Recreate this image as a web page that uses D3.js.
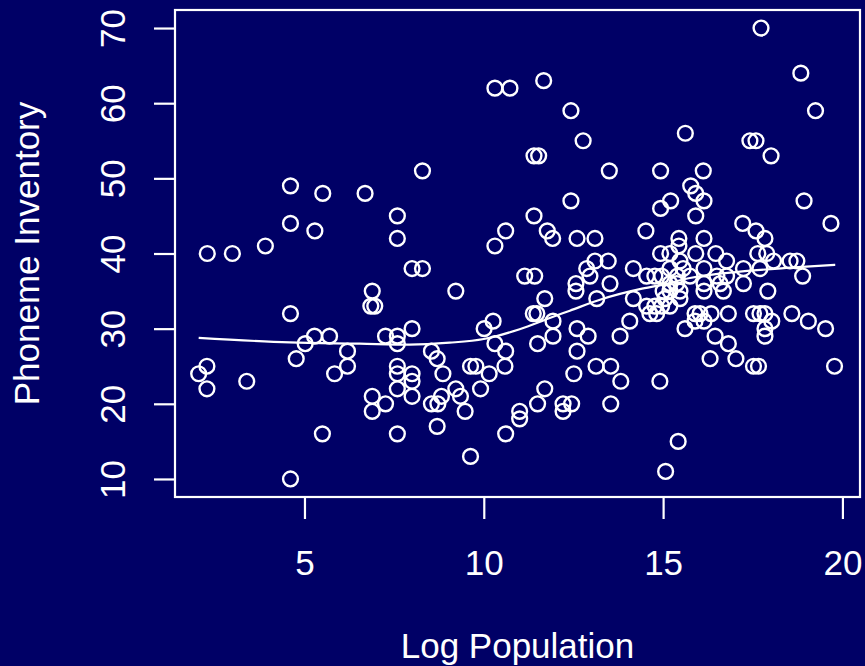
<!DOCTYPE html>
<html lang="en">
<head>
<meta charset="utf-8">
<script src="https://cdn.jsdelivr.net/npm/d3@7/dist/d3.min.js"></script>
<style type="text/css">
    body { margin: 0; background: #000066; }
    .axis line { stroke: white; stroke-width: 2.2; }
    .axis text { font-family: "Liberation Sans", Arial, sans-serif; font-size: 35px; fill: white; }
    .lab { font-family: "Liberation Sans", Arial, sans-serif; font-size: 35px; fill: white; }
</style>
</head>
<body>
<script>
// log population (x) and phoneme inventory size (y)
const logPop = [
    2.05, 2.28, 2.28, 2.29, 2.99, 3.39, 3.91, 4.61, 4.61, 4.61,
    4.61, 4.77, 5.02, 5.28, 5.29, 5.50, 5.51, 5.70, 5.84, 6.20,
    6.20, 6.69, 6.85, 6.96, 6.89, 6.89, 6.89, 7.26, 7.26, 7.59,
    7.59, 7.59, 7.59, 7.59, 7.59, 7.59, 7.59, 8.00, 8.29, 8.29,
    8.00, 8.00, 8.00, 8.00, 8.54, 8.70, 8.86, 8.54, 8.72, 8.82,
    8.70, 9.22, 9.22, 9.35, 9.48, 9.63, 9.78, 9.63, 9.91, 10.01,
    10.15, 10.26, 10.31, 10.31, 10.73, 10.31, 10.61, 10.61, 10.59, 10.61,
    11.00, 11.00, 11.14, 11.42, 11.40, 11.53, 11.40, 11.38, 11.48, 11.50,
    11.50, 11.67, 11.70, 11.70, 11.77, 11.92, 11.93, 11.93, 12.21, 12.45,
    12.21, 12.43, 12.43, 12.51, 12.57, 12.57, 12.60, 12.60, 12.60, 12.77,
    12.87, 12.96, 12.91, 13.10, 13.10, 13.47, 13.52, 13.15, 13.13, 13.54,
    13.50, 13.54, 13.80, 13.82, 14.07, 14.17, 14.17, 14.52, 14.54, 14.77,
    14.96, 14.93, 14.93, 15.21, 14.93, 15.07, 14.91, 15.42, 15.62, 15.77,
    15.91, 16.12, 16.14, 15.91, 15.44, 15.44, 16.14, 15.91, 16.47, 16.77,
    17.22, 17.59, 17.84, 17.64, 17.89, 18.54, 18.73, 17.73, 18.84, 19.25,
    17.42, 17.59, 18.01, 18.93, 19.68, 18.89, 17.92, 18.59, 19.05, 19.53,
    19.78, 17.52, 17.84, 18.03, 17.84, 17.84, 16.82, 16.34, 16.03, 15.89,
    16.14, 15.61, 16.45, 16.82, 16.31, 17.03, 17.52, 17.66, 18.08, 16.14,
    17.24, 17.70, 16.50, 16.77, 15.75, 17.24, 16.14, 16.14, 16.59, 16.68,
    17.70, 15.19, 15.40, 15.56, 15.19, 15.38, 15.00, 15.19, 15.47, 14.54,
    14.77, 14.96, 15.19, 15.05, 14.82, 14.63, 15.89, 15.47, 15.19, 15.47
];
const phonemes = [
    24, 25, 22, 40, 40, 23, 41, 49, 44, 32,
    10, 26, 28, 29, 43, 16, 48, 29, 24, 27,
    25, 48, 33, 33, 35, 21, 19, 20, 29, 29,
    28, 25, 24, 22, 16, 45, 42, 38, 38, 51,
    30, 24, 23, 21, 27, 26, 24, 20, 20, 21,
    17, 35, 22, 21, 19, 25, 25, 13, 22, 30,
    24, 31, 28, 62, 62, 41, 43, 27, 25, 16,
    19, 18, 37, 37, 53, 53, 45, 32, 32, 28,
    20, 63, 34, 22, 43, 42, 31, 29, 20, 20,
    19, 59, 47, 24, 36, 35, 42, 30, 27, 55,
    38, 37, 29, 42, 39, 39, 36, 34, 25, 25,
    51, 20, 29, 23, 31, 38, 34, 43, 37, 37,
    37, 51, 46, 47, 40, 11, 23, 15, 56, 49,
    48, 51, 47, 45, 42, 41, 42, 40, 40, 39,
    44, 43, 42, 40, 40, 39, 39, 70, 64, 59,
    55, 55, 53, 47, 44, 37, 35, 32, 31, 30,
    25, 32, 32, 31, 30, 29, 32, 32, 32, 32,
    31, 30, 29, 28, 26, 26, 25, 25, 39, 38,
    38, 38, 37, 37, 37, 36, 36, 35, 36, 35,
    32, 38, 37, 38, 36, 36, 35, 35, 35, 33,
    33, 33, 33, 34, 32, 32, 31, 34, 40, 39
];

// smoothed (lowess) curve
const smoothX = [2.05, 4.59, 6.54, 7.93, 9.05, 10.0, 11.0, 11.84, 12.40, 13.24, 14.35, 15.0, 15.75, 17.14, 18.54, 19.8];
const smoothY = [28.76, 28.17, 28.0, 27.87, 28.13, 28.62, 29.93, 31.42, 32.39, 33.85, 35.25, 35.85, 36.74, 37.58, 38.11, 38.5];

const xTicks = [5, 10, 15, 20];
const yTicks = [10, 20, 30, 40, 50, 60, 70];
const xLim = [1.39, 20.49];
const yLim = [7.6, 72.4];

let w = 865;
let h = 666;
let plotLeft = 175, plotRight = 860, plotTop = 10, plotBottom = 497;

let data = logPop.map((d, i) => { return {x: d, y: phonemes[i]}; });
let smooth = smoothX.map((d, i) => { return {x: d, y: smoothY[i]}; });

let svg = d3.select("body")
            .append("svg")
            .attr("width", w)
            .attr("height", h);

svg.append("rect")
    .attr("width", w)
    .attr("height", h)
    .attr("fill", "#000066");

let xScale = d3.scaleLinear()
                .domain(xLim)
                .range([plotLeft, plotRight]);
let yScale = d3.scaleLinear()
                .domain(yLim)
                .range([plotBottom, plotTop]);

svg.selectAll("circle")
    .data(data)
    .enter()
    .append("circle")
    .attr("cx", (d) => { return xScale(d.x); })
    .attr("cy", (d) => { return yScale(d.y); })
    .attr("r", 7.4)
    .attr("fill", "none")
    .attr("stroke", "white")
    .attr("stroke-width", 2.4);

let line = d3.line()
             .x((d) => { return xScale(d.x); })
             .y((d) => { return yScale(d.y); })
             .curve(d3.curveMonotoneX);

svg.append("path")
    .datum(smooth)
    .attr("d", line)
    .attr("fill", "none")
    .attr("stroke", "white")
    .attr("stroke-width", 2.2);

// box round the plot region
svg.append("rect")
    .attr("x", plotLeft)
    .attr("y", plotTop)
    .attr("width", plotRight - plotLeft)
    .attr("height", plotBottom - plotTop)
    .attr("fill", "none")
    .attr("stroke", "white")
    .attr("stroke-width", 2.2);

let xAxis = d3.axisBottom(xScale).tickValues(xTicks).tickSize(22).tickPadding(0).tickSizeOuter(0);
let yAxis = d3.axisLeft(yScale).tickValues(yTicks).tickSize(21).tickPadding(0).tickSizeOuter(0);

let gx = svg.append("g")
    .attr("class", "axis")
    .attr("transform", "translate(0, " + plotBottom + ")")
    .call(xAxis);
gx.select(".domain").remove();
gx.selectAll("text")
    .attr("y", 78)
    .attr("dy", 0);

let gy = svg.append("g")
    .attr("class", "axis")
    .attr("transform", "translate(" + plotLeft + ", 0)")
    .call(yAxis);
gy.select(".domain").remove();
gy.selectAll("text")
    .attr("transform", "rotate(-90)")
    .attr("x", 0)
    .attr("y", -50)
    .attr("dy", 0)
    .attr("text-anchor", "middle");

svg.append("text")
    .attr("class", "lab")
    .attr("x", (plotLeft + plotRight) / 2)
    .attr("y", 658)
    .attr("text-anchor", "middle")
    .text("Log Population");

svg.append("text")
    .attr("class", "lab")
    .attr("transform", "translate(38.5, " + (plotTop + plotBottom) / 2 + ") rotate(-90)")
    .attr("text-anchor", "middle")
    .text("Phoneme Inventory");
</script>
</body>
</html>
